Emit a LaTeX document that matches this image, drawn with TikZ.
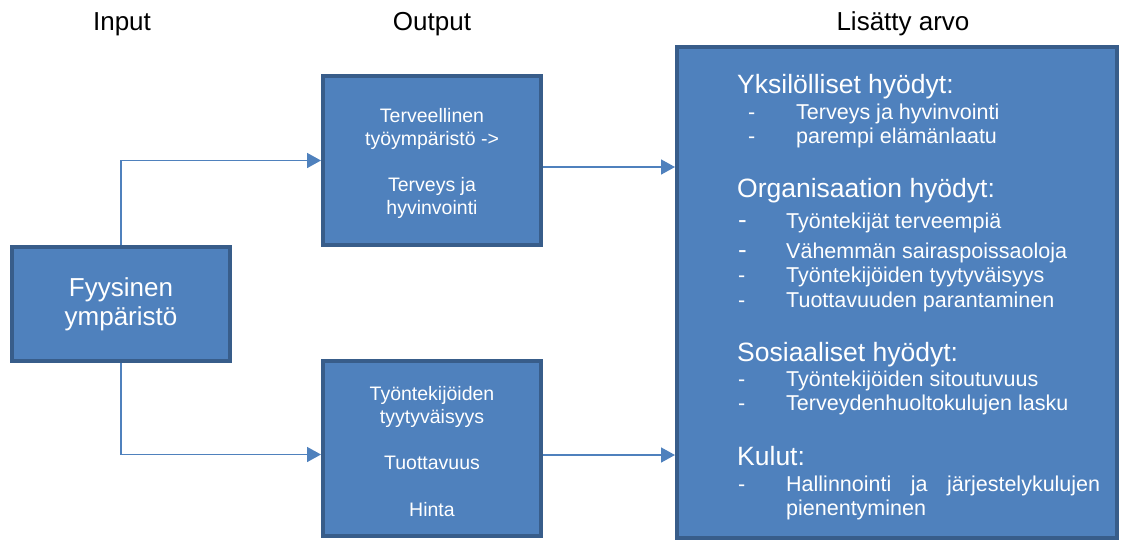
\documentclass[tikz,border=0pt]{standalone}
\usepackage{fontspec}
\setmainfont{Liberation Sans}
\usetikzlibrary{arrows.meta}
\definecolor{boxblue}{HTML}{4F81BD}
\definecolor{edgeblue}{HTML}{385D8A}

\begin{document}
\begin{tikzpicture}[x=1pt,y=-1pt,
  box/.style={draw=edgeblue, fill=boxblue, line width=4pt, text=white,
    align=center, inner sep=0pt},
  boxtext/.style={text=white, align=center, inner sep=0pt,
    font=\fontsize{19.5}{22.5}\selectfont},
  conn/.style={draw=boxblue, line width=1.6pt,
    -{Triangle[length=14pt,width=15pt]}},
  head/.style={anchor=base, font=\fontsize{26}{30}\selectfont},
  hd/.style={anchor=base west, text=white, inner sep=0pt,
    font=\fontsize{26.5}{30}\selectfont},
  item/.style={anchor=base west, text=white, inner sep=0pt,
    font=\fontsize{21.5}{24}\selectfont},
  bigdash/.style={item, font=\fontsize{26}{30}\selectfont}
]

\useasboundingbox (0,0) rectangle (1121,542);

% Column titles
\node[head] (tin)  at (122,30) {Input};
\node[head] (tout) at (432,30) {Output};
\node[head] (tval) at (903,30) {Lisätty arvo};

% Input box
\node[box, minimum width=218pt, minimum height=114pt,
  font=\fontsize{26}{29}\selectfont] (lbox) at (121,304)
  {Fyysinen\\ympäristö};

% Output boxes
\node[box, minimum width=218pt, minimum height=169pt] (tbox) at (432,160.5) {};
\node[boxtext] (ttxt) at (432,163.5)
  {Terveellinen\\työympäristö ->\\[24pt]Terveys ja\\hyvinvointi};
\node[box, minimum width=218pt, minimum height=175pt] (bbox) at (432,448.5) {};
\node[boxtext] (btxt) at (432,451.5)
  {Työntekijöiden\\tyytyväisyys\\[24pt]Tuottavuus\\[24pt]Hinta};

% Added value box
\node[box, minimum width=440pt, minimum height=491pt] (rbox) at (897,292.5) {};

% Connectors
\coordinate (ltob) at ([yshift=-6pt]bbox.west);
\coordinate (ttor) at ([yshift=-6.5pt]tbox.east);
\coordinate (btor) at ([yshift=-6.5pt]bbox.east);
\draw[conn] (lbox.north) |- (tbox.west);
\draw[conn] (lbox.south) |- (ltob);
\draw[conn] (ttor) -- (ttor -| rbox.west);
\draw[conn] (btor) -- (btor -| rbox.west);

% Individual benefits
\node[hd] (h1) at (737,93) {Yksilölliset hyödyt:};
\foreach \y/\txt in {119/Terveys ja hyvinvointi, 143/parempi elämänlaatu}{
  \node[item] (da\y) at (748,\y) {-};
  \node[item] (ia\y) at (796,\y) {\txt};
}

% Organisational benefits
\node[hd] (h2) at (737,197) {Organisaation hyödyt:};
\foreach \y/\txt in {228/Työntekijät terveempiä, 258/Vähemmän sairaspoissaoloja}{
  \node[bigdash] (db\y) at (738,\y) {-};
  \node[item] (ib\y) at (786,\y) {\txt};
}
\foreach \y/\txt in {282/Työntekijöiden tyytyväisyys, 307/Tuottavuuden parantaminen}{
  \node[item] (db\y) at (738,\y) {-};
  \node[item] (ib\y) at (786,\y) {\txt};
}

% Social benefits
\node[hd] (h3) at (737,361) {Sosiaaliset hyödyt:};
\foreach \y/\txt in {386/Työntekijöiden sitoutuvuus, 410/Terveydenhuoltokulujen lasku}{
  \node[item] (dc\y) at (738,\y) {-};
  \node[item] (ic\y) at (786,\y) {\txt};
}

% Costs
\node[hd] (h4) at (737,465) {Kulut:};
\node[item] (dd1) at (738,491) {-};
\node[item] (id1) at (786,491)
  {\hbox to 314pt{Hallinnointi\hfill ja\hfill järjestelykulujen}};
\node[item] (id2) at (786,515) {pienentyminen};

\end{tikzpicture}
\end{document}
